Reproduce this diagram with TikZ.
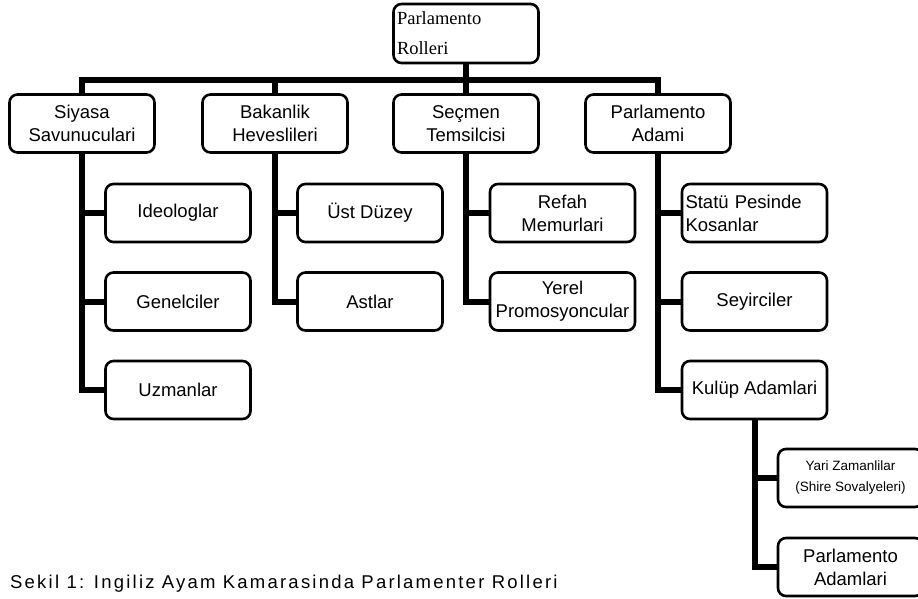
\documentclass[tikz,border=0pt]{standalone}
\usepackage{fontspec}
\setmainfont{Liberation Sans}
\newfontfamily\timesfont{Liberation Serif}
\usepackage{tikz}
\usetikzlibrary{shapes,positioning}
\tikzstyle{block} = [rectangle, draw, line width=2.6pt, rounded corners=8pt,
    minimum width=145pt, minimum height=58pt, align=center, inner sep=2pt,
    font=\fontsize{18.5}{23}\selectfont]
\tikzstyle{leftblock} = [block, align=left, text width=138pt]
\tikzstyle{line} = [draw, line width=6pt, line join=miter]

\begin{document}
\begin{tikzpicture}[x=1pt, y=-1pt]
  \useasboundingbox (0,0) rectangle (918,599);
    % Place nodes
    \node [leftblock, minimum height=59pt, font=\timesfont\fontsize{18.5}{22}\selectfont] (root) at (466,33.5) {Parlamento\\[8pt]Rolleri};
    \node [block] (siyasa) at (82,123.5) {Siyasa\\Savunuculari};
    \node [block] (bakanlik) at (275,123.5) {Bakanlik\\Heveslileri};
    \node [block] (secmen) at (466,123.5) {Seçmen\\Temsilcisi};
    \node [block] (parlAdami) at (658,123.5) {Parlamento\\Adami};
    \node [block] (ideolog) at (178,213) {Ideologlar};
    \node [block] (genel) at (178,301.5) {Genelciler};
    \node [block] (uzman) at (178,390) {Uzmanlar};
    \node [block] (ustDuzey) at (370,213) {Üst Düzey};
    \node [block] (astlar) at (370,301.5) {Astlar};
    \node [block] (refah) at (562.5,213) {Refah\\Memurlari};
    \node [block] (yerel) at (562.5,301.5) {Yerel\\Promosyoncular};
    \node [leftblock] (statu) at (754.5,213) {Statü Pesinde\\Kosanlar};
    \node [block] (seyirci) at (754.5,301.5) {Seyirciler};
    \node [block] (kulup) at (754.5,390) {Kulüp Adamlari};
    \node [block, font=\fontsize{13.5}{21}\selectfont] (yari) at (850.5,478) {Yari Zamanlilar\\(Shire Sovalyeleri)};
    \node [block] (parlAdamlari) at (850.5,567) {Parlamento\\Adamlari};
    \node [anchor=base west, inner sep=0pt, font=\fontsize{18.5}{22}\selectfont\addfontfeatures{LetterSpace=12}] (caption) at (10,588) {Sekil 1: Ingiliz Ayam Kamarasinda Parlamenter Rolleri};
    \coordinate (bus) at (466,80);

    % Draw edges
    \path [line] (root) -- (secmen);
    \path [line] (siyasa) |- (bus);
    \path [line] (parlAdami) |- (bus);
    \path [line] (bakanlik) -- (bakanlik |- bus);
    \path [line] (siyasa) |- (ideolog);
    \path [line] (siyasa) |- (genel);
    \path [line] (siyasa) |- (uzman);
    \path [line] (bakanlik) |- (ustDuzey);
    \path [line] (bakanlik) |- (astlar);
    \path [line] (secmen) |- (refah);
    \path [line] (secmen) |- (yerel);
    \path [line] (parlAdami) |- (statu);
    \path [line] (parlAdami) |- (seyirci);
    \path [line] (parlAdami) |- (kulup);
    \path [line] (kulup) |- (yari);
    \path [line] (kulup) |- (parlAdamlari);

\end{tikzpicture}
\end{document}
